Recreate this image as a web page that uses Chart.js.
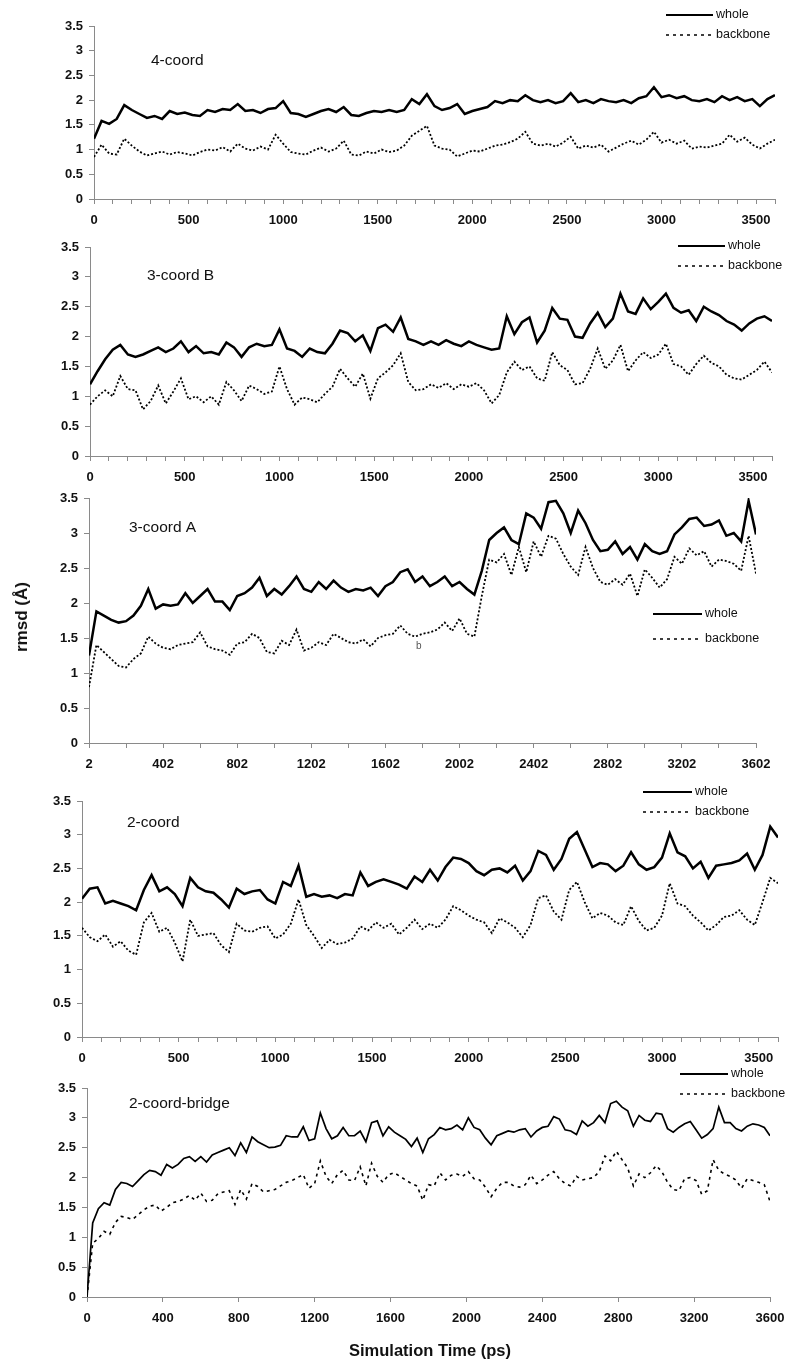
<!DOCTYPE html>
<html>
<head>
<meta charset="utf-8">
<script src="https://cdn.jsdelivr.net/npm/chart.js@4.4.1/dist/chart.umd.min.js"></script>
<style>
    body { margin: 0; background: #fff; }
    #page { position: relative; width: 800px; height: 1371px; overflow: hidden; background: #fff; }
    #page canvas { position: absolute; left: 0; }
    .axisTitle { position: absolute; font-family: "Liberation Sans", Arial, sans-serif; font-weight: bold; color: #111; white-space: nowrap; }
    #yTitle { left: 22px; top: 617px; font-size: 17px; transform: translate(-50%, -50%) rotate(-90deg); }
    #xTitle { left: 430px; top: 1350px; font-size: 16.5px; transform: translate(-50%, -50%); }
</style>
</head>
<body>
<div id="page">
    <canvas id="chart4coord"></canvas>
    <canvas id="chart3coordB"></canvas>
    <canvas id="chart3coordA"></canvas>
    <canvas id="chart2coord"></canvas>
    <canvas id="chartBridge"></canvas>
    <div class="axisTitle" id="yTitle">rmsd (Å)</div>
    <div class="axisTitle" id="xTitle">Simulation Time (ps)</div>
</div>
<script>
// rmsd (A), one value every 40 ps (bridge panel: every 30 ps)
var coord4Whole = [1.22,1.58,1.52,1.62,1.90,1.80,1.72,1.64,1.68,1.62,
    1.78,1.72,1.75,1.70,1.68,1.80,1.76,1.82,1.80,1.92,
    1.78,1.80,1.74,1.82,1.84,1.98,1.74,1.72,1.66,1.72,
    1.78,1.82,1.76,1.86,1.70,1.68,1.74,1.78,1.76,1.80,
    1.76,1.80,2.02,1.92,2.12,1.88,1.80,1.84,1.92,1.72,
    1.78,1.82,1.86,1.98,1.94,2.00,1.98,2.10,2.00,1.96,
    2.00,1.94,1.98,2.14,1.96,2.00,1.94,2.02,1.98,1.96,
    2.00,1.94,2.04,2.08,2.26,2.06,2.10,2.04,2.08,2.00,
    1.98,2.02,1.96,2.08,2.00,2.06,1.98,2.02,1.88,2.02,
    2.10];
var coord4Backbone = [0.85,1.10,0.92,0.90,1.22,1.08,0.96,0.88,0.92,0.96,
    0.90,0.95,0.92,0.88,0.95,1.00,0.98,1.05,0.96,1.12,
    1.02,0.98,1.06,1.00,1.30,1.12,0.95,0.92,0.90,0.98,
    1.04,0.96,1.02,1.18,0.90,0.88,0.96,0.92,1.00,0.95,
    0.98,1.08,1.28,1.38,1.48,1.08,1.02,1.00,0.86,0.92,
    0.98,0.96,1.02,1.08,1.10,1.15,1.22,1.36,1.12,1.08,
    1.12,1.06,1.14,1.26,1.02,1.08,1.04,1.10,0.96,1.04,
    1.12,1.18,1.10,1.20,1.36,1.14,1.20,1.12,1.18,1.02,
    1.06,1.04,1.08,1.12,1.30,1.16,1.24,1.10,1.02,1.12,
    1.20];

var coord3bWhole = [1.20,1.42,1.62,1.78,1.86,1.70,1.66,1.70,1.76,1.82,
    1.74,1.80,1.92,1.74,1.84,1.72,1.74,1.70,1.90,1.82,
    1.66,1.82,1.88,1.84,1.86,2.12,1.80,1.76,1.66,1.80,
    1.74,1.72,1.88,2.10,2.06,1.92,2.02,1.76,2.14,2.20,
    2.08,2.32,1.96,1.92,1.86,1.92,1.86,1.94,1.88,1.84,
    1.92,1.86,1.82,1.78,1.80,2.34,2.04,2.24,2.32,1.90,
    2.10,2.48,2.30,2.28,2.00,1.98,2.22,2.40,2.16,2.30,
    2.72,2.42,2.38,2.64,2.46,2.58,2.72,2.48,2.40,2.44,
    2.26,2.50,2.42,2.36,2.26,2.20,2.10,2.22,2.30,2.34,
    2.26];
var coord3bBackbone = [0.86,1.00,1.10,1.00,1.34,1.12,1.10,0.78,0.92,1.18,
    0.88,1.08,1.30,0.95,1.00,0.90,1.00,0.86,1.24,1.10,
    0.92,1.18,1.12,1.04,1.08,1.50,1.12,0.86,0.98,0.95,
    0.90,1.04,1.16,1.46,1.30,1.16,1.38,0.96,1.30,1.40,
    1.52,1.72,1.24,1.10,1.12,1.20,1.14,1.22,1.12,1.20,
    1.16,1.22,1.10,0.88,1.02,1.40,1.58,1.44,1.50,1.30,
    1.26,1.74,1.52,1.44,1.20,1.22,1.46,1.80,1.46,1.60,
    1.86,1.42,1.60,1.74,1.64,1.70,1.88,1.54,1.50,1.36,
    1.54,1.68,1.56,1.50,1.36,1.30,1.28,1.36,1.44,1.58,
    1.40];

// this panel starts at 2 ps
var coord3aWhole = [1.25,1.88,1.82,1.76,1.72,1.74,1.82,1.96,2.20,1.92,
    1.98,1.96,1.98,2.14,2.00,2.10,2.20,2.02,2.02,1.90,
    2.10,2.14,2.22,2.36,2.10,2.20,2.12,2.24,2.38,2.20,
    2.16,2.30,2.20,2.32,2.22,2.16,2.20,2.18,2.22,2.10,
    2.24,2.30,2.44,2.48,2.30,2.38,2.24,2.30,2.38,2.24,
    2.30,2.20,2.12,2.46,2.90,3.00,3.08,2.90,2.84,3.28,
    3.22,3.06,3.44,3.46,3.28,3.00,3.32,3.14,2.90,2.74,
    2.76,2.88,2.70,2.80,2.62,2.84,2.74,2.70,2.74,2.98,
    3.08,3.20,3.22,3.10,3.12,3.18,2.96,3.00,2.88,3.46,
    2.98];
var coord3aBackbone = [0.80,1.40,1.30,1.20,1.10,1.08,1.20,1.28,1.52,1.42,
    1.36,1.34,1.40,1.42,1.44,1.58,1.38,1.34,1.32,1.26,
    1.42,1.44,1.56,1.50,1.30,1.28,1.46,1.40,1.62,1.32,
    1.36,1.44,1.40,1.56,1.50,1.44,1.42,1.48,1.38,1.50,
    1.54,1.56,1.68,1.56,1.52,1.56,1.58,1.62,1.72,1.60,
    1.78,1.56,1.52,2.10,2.62,2.58,2.70,2.40,2.80,2.44,
    2.88,2.66,2.96,2.92,2.70,2.52,2.40,2.80,2.50,2.30,
    2.26,2.34,2.26,2.42,2.10,2.48,2.36,2.22,2.34,2.66,
    2.56,2.78,2.68,2.74,2.52,2.62,2.60,2.56,2.46,2.96,
    2.42];

var coord2Whole = [2.05,2.20,2.22,1.98,2.02,1.98,1.94,1.88,2.18,2.40,
    2.16,2.22,2.12,1.94,2.36,2.22,2.16,2.14,2.04,1.92,
    2.20,2.12,2.16,2.18,2.04,1.98,2.30,2.24,2.54,2.08,
    2.12,2.08,2.10,2.06,2.12,2.10,2.44,2.24,2.30,2.34,
    2.30,2.26,2.20,2.38,2.30,2.48,2.32,2.52,2.66,2.64,
    2.58,2.46,2.40,2.48,2.50,2.44,2.54,2.32,2.46,2.76,
    2.70,2.48,2.64,2.94,3.04,2.78,2.52,2.58,2.56,2.46,
    2.54,2.74,2.56,2.48,2.52,2.66,3.02,2.74,2.68,2.50,
    2.60,2.36,2.54,2.56,2.58,2.62,2.72,2.48,2.70,3.12,
    2.96];
var coord2Backbone = [1.62,1.48,1.42,1.52,1.34,1.42,1.28,1.22,1.70,1.84,
    1.56,1.62,1.40,1.12,1.74,1.50,1.52,1.54,1.36,1.26,
    1.68,1.58,1.56,1.62,1.64,1.46,1.52,1.68,2.04,1.66,
    1.50,1.32,1.44,1.38,1.40,1.46,1.64,1.58,1.70,1.62,
    1.68,1.52,1.62,1.74,1.60,1.68,1.62,1.74,1.94,1.88,
    1.80,1.74,1.70,1.54,1.76,1.70,1.62,1.48,1.66,2.06,
    2.10,1.86,1.74,2.18,2.30,2.00,1.76,1.84,1.80,1.70,
    1.66,1.94,1.72,1.58,1.62,1.80,2.28,1.98,1.94,1.80,
    1.70,1.58,1.66,1.78,1.80,1.88,1.74,1.66,2.00,2.36,
    2.28];

var bridgeWhole = [0.00,1.24,1.48,1.58,1.54,1.80,1.92,1.90,1.85,1.95,
    2.05,2.12,2.10,2.04,2.22,2.16,2.22,2.32,2.35,2.27,
    2.35,2.26,2.38,2.42,2.46,2.50,2.37,2.58,2.42,2.68,
    2.60,2.55,2.50,2.51,2.54,2.70,2.68,2.68,2.85,2.62,
    2.65,3.08,2.82,2.65,2.70,2.84,2.70,2.70,2.78,2.60,
    2.92,2.95,2.70,2.85,2.76,2.70,2.64,2.52,2.66,2.42,
    2.65,2.72,2.84,2.80,2.82,2.88,2.80,3.00,2.84,2.80,
    2.66,2.55,2.70,2.74,2.78,2.76,2.80,2.82,2.68,2.78,
    2.84,2.86,3.02,2.98,2.80,2.78,2.72,2.95,2.86,2.92,
    3.04,2.92,3.24,3.28,3.18,3.12,2.86,3.04,2.96,2.94,
    3.08,3.06,2.82,2.76,2.84,2.90,2.94,2.80,2.66,2.72,
    2.82,3.18,2.92,2.92,2.82,2.78,2.86,2.90,2.88,2.84,
    2.70];
var bridgeBackbone = [0.00,0.90,0.98,1.10,1.05,1.25,1.35,1.33,1.30,1.38,
    1.46,1.52,1.54,1.44,1.50,1.58,1.60,1.64,1.70,1.62,
    1.74,1.60,1.62,1.73,1.76,1.78,1.55,1.80,1.64,1.90,
    1.85,1.76,1.78,1.80,1.86,1.92,1.95,2.00,2.05,1.82,
    1.90,2.28,2.02,1.90,2.05,2.12,1.96,1.95,2.18,1.86,
    2.24,2.02,1.92,2.05,2.08,2.02,1.96,1.90,1.86,1.62,
    1.88,1.86,2.08,1.96,2.04,2.06,2.02,2.10,1.98,1.96,
    1.84,1.68,1.82,1.92,1.92,1.86,1.84,1.88,2.04,1.90,
    1.96,2.04,2.10,1.98,1.90,1.86,2.02,1.96,1.98,2.00,
    2.10,2.36,2.28,2.44,2.30,2.16,1.86,2.06,2.00,2.08,
    2.20,2.10,1.92,1.80,1.78,1.98,2.00,1.95,1.72,1.78,
    2.30,2.12,2.06,2.02,1.96,1.82,1.98,1.95,1.92,1.88,
    1.60];

// tick labels on the time axes
var xLabels500 = [0, 500, 1000, 1500, 2000, 2500, 3000, 3500];
var xLabels3a = [2, 402, 802, 1202, 1602, 2002, 2402, 2802, 3202, 3602];
var xLabels400 = [0, 400, 800, 1200, 1600, 2000, 2400, 2800, 3200, 3600];

var axisGray = '#8a8a8a';
var fontStack = '"Liberation Sans", Arial, sans-serif';
var Panels = {};
Chart.defaults.font.family = fontStack;
Chart.defaults.color = '#111';

function TickRange(from, to, step) {
    var out = [];
    for (var v = from; v <= to; v += step) out.push(v);
    return out;
}

function ToPoints(values, start, step) {
    return values.map(function (v, i) { return { x: start + i * step, y: v }; });
}

var panelDecor = {
    id: 'panelDecor',
    afterDraw: function (chart) {
        var p = Panels[chart.canvas.id];
        if (!p) return;
        var ctx = chart.ctx;
        var off = p.canvasTop;
        ctx.save();
        ctx.fillStyle = '#111';
        ctx.textBaseline = 'middle';
        ctx.textAlign = 'left';
        ctx.font = '15.5px ' + fontStack;
        ctx.fillText(p.name, p.nameX, p.nameY - off);

        // legend
        var lg = p.legend;
        ctx.strokeStyle = '#000';
        ctx.lineWidth = 2;
        ctx.setLineDash([]);
        ctx.beginPath();
        ctx.moveTo(lg.x1, lg.y1 - off);
        ctx.lineTo(lg.x2, lg.y1 - off);
        ctx.stroke();
        ctx.lineWidth = 1.5;
        ctx.setLineDash([3, 4]);
        ctx.beginPath();
        ctx.moveTo(lg.x1, lg.y2 - off);
        ctx.lineTo(lg.x2, lg.y2 - off);
        ctx.stroke();
        ctx.setLineDash([]);
        ctx.font = '12.5px ' + fontStack;
        ctx.fillText('whole', lg.x2 + 3, lg.y1 - off);
        ctx.fillText('backbone', lg.x2 + 3, lg.y2 - off);

        if (p.extra) {
            ctx.fillStyle = '#555';
            ctx.font = '10px ' + fontStack;
            ctx.fillText(p.extra.text, p.extra.x, p.extra.y - off);
        }
        ctx.restore();
    }
};

function BuildPanel(p) {
    var canvas = document.getElementById(p.id);
    var plotH = p.area.bottom - p.area.top;
    p.canvasTop = p.area.top - p.padTop;
    Panels[p.id] = p;
    var h = p.canvasHeight || (p.padTop + plotH + 40);
    canvas.width = 800;
    canvas.height = h;
    canvas.style.width = '800px';
    canvas.style.height = h + 'px';
    canvas.style.top = p.canvasTop + 'px';

    return new Chart(canvas, {
        type: 'line',
        data: {
            datasets: [{
                label: 'whole',
                data: ToPoints(p.whole, p.xMin, p.step),
                borderColor: '#000',
                borderWidth: p.wholeWidth,
                pointRadius: 0,
                tension: 0
            }, {
                label: 'backbone',
                data: ToPoints(p.backbone, p.xMin, p.step),
                borderColor: '#000',
                borderWidth: p.backboneWidth,
                borderDash: p.dash,
                pointRadius: 0,
                tension: 0
            }]
        },
        options: {
            responsive: false,
            animation: false,
            events: [],
            layout: {
                padding: { top: p.padTop, left: 0, right: 800 - p.area.right, bottom: h - p.padTop - plotH - 40 }
            },
            plugins: { legend: { display: false }, tooltip: { enabled: false } },
            scales: {
                x: {
                    type: 'linear',
                    min: p.xMin,
                    max: p.xMax,
                    afterBuildTicks: function (scale) {
                        scale.ticks = p.tickMarks.map(function (v) { return { value: v }; });
                    },
                    afterFit: function (scale) { scale.height = 40; },
                    ticks: {
                        autoSkip: false, maxRotation: 0, minRotation: 0, padding: 9,
                        font: { size: 13, weight: 'bold' }, color: '#111',
                        callback: function (value) { return p.tickLabels.indexOf(value) >= 0 ? String(value) : ''; }
                    },
                    grid: { drawOnChartArea: false, drawTicks: true, tickLength: 5, color: axisGray },
                    border: { color: axisGray, width: 1 }
                },
                y: {
                    min: 0,
                    max: 3.5,
                    afterFit: function (scale) { scale.width = p.area.left; },
                    ticks: {
                        stepSize: 0.5, padding: 6, font: { size: 13, weight: 'bold' }, color: '#111',
                        callback: function (value) { return String(Math.round(value * 10) / 10); }
                    },
                    grid: { drawOnChartArea: false, drawTicks: true, tickLength: 5, color: axisGray },
                    border: { color: axisGray, width: 1 }
                }
            }
        },
        plugins: [panelDecor]
    });
}

BuildPanel({
    id: 'chart4coord', name: '4-coord', nameX: 151, nameY: 61,
    area: { left: 94, right: 775, top: 26, bottom: 199 }, padTop: 26,
    whole: coord4Whole, backbone: coord4Backbone, xMin: 0, xMax: 3600, step: 40,
    tickMarks: TickRange(0, 3600, 100), tickLabels: xLabels500,
    wholeWidth: 2.5, backboneWidth: 1.8, dash: [2, 2],
    legend: { x1: 666, x2: 713, y1: 15, y2: 35 }
});
BuildPanel({
    id: 'chart3coordB', name: '3-coord B', nameX: 147, nameY: 276,
    area: { left: 90, right: 772, top: 247, bottom: 456 }, padTop: 30,
    whole: coord3bWhole, backbone: coord3bBackbone, xMin: 0, xMax: 3600, step: 40,
    tickMarks: TickRange(0, 3600, 100), tickLabels: xLabels500,
    wholeWidth: 2.5, backboneWidth: 1.8, dash: [2, 2],
    legend: { x1: 678, x2: 725, y1: 246, y2: 266 }
});
BuildPanel({
    id: 'chart3coordA', name: '3-coord A', nameX: 129, nameY: 528,
    area: { left: 89, right: 756, top: 498, bottom: 743 }, padTop: 30,
    whole: coord3aWhole, backbone: coord3aBackbone, xMin: 2, xMax: 3602, step: 40,
    tickMarks: TickRange(2, 3602, 200), tickLabels: xLabels3a,
    wholeWidth: 2.5, backboneWidth: 1.8, dash: [2, 2],
    legend: { x1: 653, x2: 702, y1: 614, y2: 639 },
    extra: { text: 'b', x: 416, y: 646 }
});
BuildPanel({
    id: 'chart2coord', name: '2-coord', nameX: 127, nameY: 823,
    area: { left: 82, right: 778, top: 801, bottom: 1037 }, padTop: 30,
    whole: coord2Whole, backbone: coord2Backbone, xMin: 0, xMax: 3600, step: 40,
    tickMarks: TickRange(0, 3600, 100), tickLabels: xLabels500,
    wholeWidth: 2.5, backboneWidth: 1.8, dash: [2, 2],
    legend: { x1: 643, x2: 692, y1: 792, y2: 812 }
});
BuildPanel({
    id: 'chartBridge', name: '2-coord-bridge', nameX: 129, nameY: 1104,
    area: { left: 87, right: 770, top: 1088, bottom: 1297 }, padTop: 30, canvasHeight: 313,
    whole: bridgeWhole, backbone: bridgeBackbone, xMin: 0, xMax: 3600, step: 30,
    tickMarks: xLabels400, tickLabels: xLabels400,
    wholeWidth: 1.7, backboneWidth: 1.6, dash: [3, 4],
    legend: { x1: 680, x2: 728, y1: 1074, y2: 1094 }
});
</script>
</body>
</html>
